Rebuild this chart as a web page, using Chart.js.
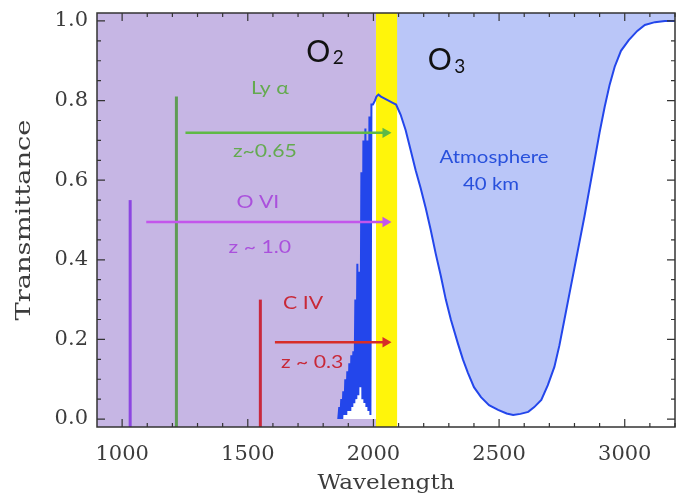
<!DOCTYPE html>
<html>
<head>
<meta charset="utf-8">
<script src="https://cdn.jsdelivr.net/npm/chart.js@4.4.1/dist/chart.umd.min.js"></script>
<style>
  body { margin: 0; background: #ffffff; }
  #wrap { width: 686px; height: 494px; }
</style>
</head>
<body>
<div id="wrap"><canvas id="transmittance_chart" width="686" height="494"></canvas></div>
<script>
// atmosphere transmittance at 40 km
const wavelength = [
  900, 1860, 1864, 1868, 1872, 1876, 1880, 1884, 1888, 1892, 1896, 1900, 1904, 1908, 1912, 1916,
  1920, 1924, 1928, 1932, 1936, 1940, 1944, 1948, 1952, 1956, 1960, 1964, 1968, 1972, 1976, 1980,
  1984, 1988, 1992, 1998, 2006, 2012, 2020, 2030, 2045, 2060, 2075, 2090, 2108, 2128, 2148, 2168,
  2188, 2208, 2228, 2248, 2268, 2288, 2308, 2336, 2356, 2376, 2400, 2428, 2460, 2496, 2530, 2556,
  2585, 2616, 2640, 2668, 2694, 2720, 2740, 2760, 2780, 2800, 2820, 2840, 2860, 2880, 2900, 2920,
  2940, 2960, 2985, 3016, 3050, 3080, 3120, 3160, 3200
];
const transmittance = [
  0.0, 0.0, 0.03, 0.0, 0.05, 0.0, 0.07, 0.01, 0.10, 0.01, 0.12, 0.02, 0.14, 0.02, 0.16, 0.03,
  0.17, 0.04, 0.30, 0.05, 0.39, 0.06, 0.37, 0.08, 0.62, 0.05, 0.70, 0.04, 0.73, 0.03, 0.70, 0.02,
  0.76, 0.01, 0.79, 0.79, 0.80, 0.81, 0.815, 0.81, 0.805, 0.80, 0.795, 0.79, 0.765, 0.726, 0.676, 0.625,
  0.58, 0.53, 0.475, 0.415, 0.36, 0.30, 0.25, 0.19, 0.15, 0.116, 0.08, 0.055, 0.035, 0.023, 0.014, 0.010,
  0.013, 0.018, 0.030, 0.048, 0.085, 0.131, 0.185, 0.25, 0.315, 0.38, 0.445, 0.51, 0.58, 0.65, 0.72, 0.784,
  0.84, 0.885, 0.925, 0.952, 0.975, 0.99, 0.997, 1.0, 1.0
];

// absorption lines: rest wavelength and marker height
const lineNames = ["O VI", "Ly \u03b1", "C IV"];
const lineRest = [1032, 1216, 1550];
const lineTop = [0.55, 0.81, 0.30];

// redshift arrows
const arrowStart = [1096, 1252, 1608];
const arrowEnd = [2048, 2048, 2048];
const arrowLevel = [0.495, 0.719, 0.193];
const redshiftText = ["z ~ 1.0", "z~0.65", "z ~ 0.3"];

// O2 absorption region and the window before the O3 band
const o2Band = [900, 2010];
const windowBand = [2010, 2095];

const xTicks = [1000, 1500, 2000, 2500, 3000];
const yTicks = [0.0, 0.2, 0.4, 0.6, 0.8, 1.0];

const lineColors = ["rgb(140, 70, 225)", "rgb(95, 155, 85)", "rgb(200, 40, 60)"];
const arrowColors = ["rgb(195, 85, 235)", "rgb(95, 185, 70)", "rgb(215, 45, 40)"];
const textColors = ["rgb(170, 80, 220)", "rgb(100, 170, 80)", "rgb(200, 40, 55)"];

const curve = wavelength.map((w, i) => ({ x: w, y: transmittance[i] }));

const datasets = [];

// arrows (topmost)
for (let i = 0; i < arrowStart.length; i++) {
    datasets.push({
        data: [{ x: arrowStart[i], y: arrowLevel[i] }, { x: arrowEnd[i], y: arrowLevel[i] }],
        borderColor: arrowColors[i],
        backgroundColor: arrowColors[i],
        borderWidth: 2.5,
        pointRadius: [0, 6],
        pointStyle: "triangle",
        pointRotation: 90,
        pointBorderWidth: 0,
        fill: false
    });
}

// rest-frame line markers
for (let i = 0; i < lineRest.length; i++) {
    datasets.push({
        data: [{ x: lineRest[i], y: -0.02 }, { x: lineRest[i], y: lineTop[i] }],
        borderColor: lineColors[i],
        borderWidth: 3,
        pointRadius: 0,
        fill: false
    });
}

// transmittance curve
datasets.push({
    data: curve,
    borderColor: "rgb(35, 70, 235)",
    borderWidth: 2,
    pointRadius: 0,
    fill: false,
    segment: {
        borderColor: ctx => ctx.p1.parsed.x <= 1860 ? "rgba(0,0,0,0)" : "rgb(35, 70, 235)"
    }
});

// yellow window band
datasets.push({
    data: [{ x: windowBand[0], y: 1.02 }, { x: windowBand[1], y: 1.02 }],
    borderWidth: 0,
    borderColor: "rgba(0,0,0,0)",
    backgroundColor: "rgb(255, 245, 10)",
    pointRadius: 0,
    fill: "start"
});

// white under the curve on the O2 side
datasets.push({
    data: curve.filter(p => p.x <= 2012),
    borderWidth: 0,
    borderColor: "rgba(0,0,0,0)",
    backgroundColor: "#ffffff",
    pointRadius: 0,
    fill: { value: 0 }
});

// O2 absorption (purple block)
datasets.push({
    data: [{ x: o2Band[0], y: 1.02 }, { x: o2Band[1], y: 1.02 }],
    borderWidth: 0,
    borderColor: "rgba(0,0,0,0)",
    backgroundColor: "rgb(198, 182, 228)",
    pointRadius: 0,
    fill: "start"
});

// O3 side absorption (light blue, above the curve)
datasets.push({
    data: curve.filter(p => p.x >= 2090),
    borderWidth: 0,
    borderColor: "rgba(0,0,0,0)",
    backgroundColor: "rgb(186, 198, 248)",
    pointRadius: 0,
    fill: "end"
});

// text in the original figure is stretched sideways
function wideText(ctx, str, px, py, font, color, stretch, angle) {
    ctx.save();
    ctx.translate(px, py);
    if (angle) ctx.rotate(angle);
    ctx.scale(stretch, 1);
    ctx.font = font;
    ctx.fillStyle = color;
    ctx.textAlign = "center";
    ctx.textBaseline = "middle";
    ctx.fillText(str, 0, 0);
    ctx.restore();
}

const overlay = {
    id: "overlay",
    afterDatasetsDraw(chart) {
        const { ctx, chartArea: a, scales: { x, y } } = chart;
        ctx.save();

        const label = (str, wl, t, color) =>
            wideText(ctx, str, x.getPixelForValue(wl), y.getPixelForValue(t), "17px Lato", color, 1.25);

        // line names and redshifts
        label(lineNames[1], 1588, 0.83, textColors[1]);
        label(redshiftText[1], 1568, 0.673, textColors[1]);
        label(lineNames[0], 1540, 0.543, textColors[0]);
        label(redshiftText[0], 1548, 0.43, textColors[0]);
        label(lineNames[2], 1720, 0.291, textColors[2]);
        label(redshiftText[2], 1756, 0.141, textColors[2]);
        wideText(ctx, "Atmosphere", x.getPixelForValue(2480), y.getPixelForValue(0.658), "17px Lato", "rgb(40, 80, 220)", 1.2);
        wideText(ctx, "40 km", x.getPixelForValue(2468), y.getPixelForValue(0.588), "17px Lato", "rgb(40, 80, 220)", 1.2);

        // molecule names with subscripts
        const molecule = (sub, wl, t) => {
            const px = x.getPixelForValue(wl), py = y.getPixelForValue(t);
            wideText(ctx, "O", px, py, "30px Lato", "#111", 1);
            wideText(ctx, sub, px + 20, py + 6, "19px Lato", "#111", 1);
        };
        molecule("2", 1780, 0.922);
        molecule("3", 2264, 0.9);

        // axis titles
        wideText(ctx, "Wavelength", (a.left + a.right) / 2, 484, "21px 'DejaVu Serif'", "#3c3c3c", 1.1);
        wideText(ctx, "Transmittance", 25, (a.top + a.bottom) / 2, "21px 'DejaVu Serif'", "#3c3c3c", 1.3, -Math.PI / 2);

        // frame
        ctx.strokeStyle = "#333";
        ctx.lineWidth = 1.5;
        ctx.strokeRect(a.left, a.top, a.right - a.left, a.bottom - a.top);

        // inward ticks on all four sides
        ctx.lineWidth = 1.2;
        ctx.beginPath();
        for (let v = 1000; v <= 3200; v += 100) {
            const px = x.getPixelForValue(v);
            const len = v % 500 === 0 ? 8 : 4;
            ctx.moveTo(px, a.bottom); ctx.lineTo(px, a.bottom - len);
            ctx.moveTo(px, a.top); ctx.lineTo(px, a.top + len);
        }
        for (let k = 0; k <= 20; k++) {
            const py = y.getPixelForValue(k * 0.05);
            const len = k % 4 === 0 ? 8 : 4;
            ctx.moveTo(a.left, py); ctx.lineTo(a.left + len, py);
            ctx.moveTo(a.right, py); ctx.lineTo(a.right - len, py);
        }
        ctx.stroke();
        ctx.restore();
    }
};

const transmittance_chart = new Chart("transmittance_chart",
{
    type: "line",
    data: { datasets: datasets },
    plugins: [overlay],
    options:
    {
        animation: false,
        responsive: false,
        devicePixelRatio: 1,
        layout: { padding: { top: 13, right: 11, left: 0, bottom: 0 } },
        plugins:
        {
            legend: { display: false },
            tooltip: { enabled: false }
        },
        scales:
        {
            x:
            {
                type: "linear",
                min: 900,
                max: 3200,
                afterBuildTicks: s => { s.ticks = xTicks.map(v => ({ value: v })); },
                afterFit: s => { s.height = 67; s.paddingLeft = 0; s.paddingRight = 0; },
                grid: { display: false, drawTicks: false },
                border: { display: false },
                ticks:
                {
                    padding: 15,
                    maxRotation: 0,
                    autoSkip: false,
                    color: "#3c3c3c",
                    font: { family: "DejaVu Serif", size: 21 },
                    callback: v => String(v)
                }
            },
            y:
            {
                min: -0.02,
                max: 1.02,
                afterBuildTicks: s => { s.ticks = yTicks.map(v => ({ value: v })); },
                afterFit: s => { s.width = 97; s.paddingTop = 0; s.paddingBottom = 0; },
                grid: { display: false, drawTicks: false },
                border: { display: false },
                ticks:
                {
                    padding: 9,
                    color: "#3c3c3c",
                    font: { family: "DejaVu Serif", size: 21 },
                    callback: v => v.toFixed(1)
                }
            }
        }
    }
});
</script>
</body>
</html>
